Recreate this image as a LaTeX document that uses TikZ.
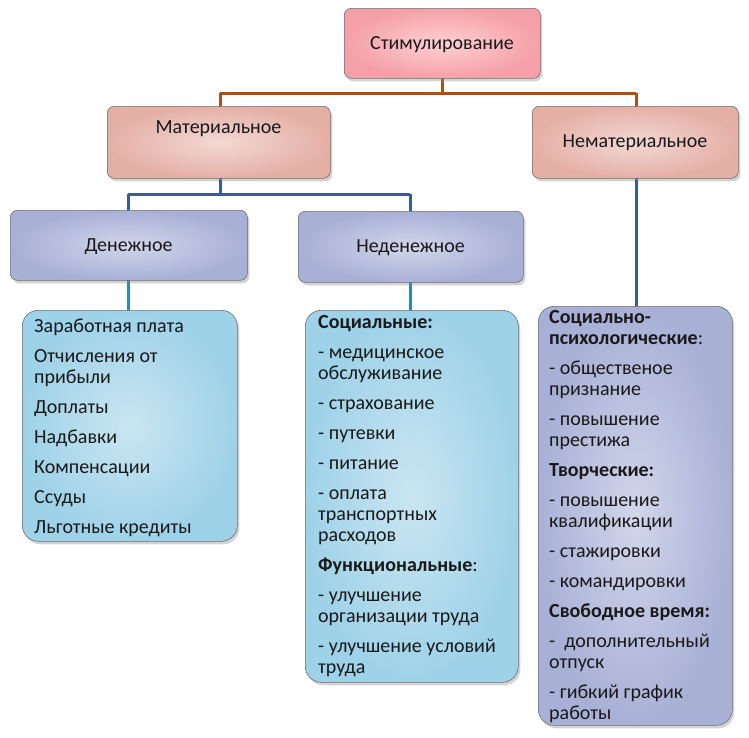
\documentclass[tikz,border=0pt]{standalone}
\usepackage{fontspec}
\setmainfont{Carlito}
\usetikzlibrary{shadows}
\definecolor{pinkout}{RGB}{245,160,168}
\definecolor{pinkin}{RGB}{255,208,211}
\definecolor{salout}{RGB}{228,176,166}
\definecolor{salin}{RGB}{243,216,212}
\definecolor{lavout}{RGB}{168,176,214}
\definecolor{lavin}{RGB}{210,214,234}
\definecolor{skyout}{RGB}{158,210,232}
\definecolor{skyin}{RGB}{202,230,242}
\definecolor{bordergrey}{RGB}{110,110,110}
\definecolor{brownline}{RGB}{166,82,30}
\definecolor{blueline}{RGB}{60,88,160}
\definecolor{tealline}{RGB}{40,140,170}
\definecolor{txt}{RGB}{25,25,25}
\tikzset{
  boxbase/.style={draw=bordergrey, line width=0.6pt, anchor=north west,
    drop shadow={opacity=0.35, shadow xshift=2pt, shadow yshift=-3pt}},
  headbox/.style={boxbase, rounded corners=7pt},
  listbox/.style={boxbase, rounded corners=16pt},
  lbl/.style={text=txt, font=\fontsize{20}{21}\selectfont},
  listtext/.style={lbl, anchor=north west, align=left, inner sep=0pt},
  brownc/.style={draw=brownline, line width=3pt},
  bluec/.style={draw=blueline, line width=3pt},
  tealc/.style={draw=tealline, line width=3pt},
}
\newcommand{\pgap}{\\[9pt]}
\begin{document}
\begin{tikzpicture}[x=1pt,y=-1pt]
\useasboundingbox (0,0) rectangle (749,737);
% connectors first
\coordinate (ja) at (442,93);
\coordinate (jb) at (220,194);
\draw[brownc] (442,78) -- (ja);
\draw[brownc] (220,93) -- (636,93);
\draw[brownc] (220,93) -- (220,108);
\draw[brownc] (636,93) -- (636,108);
\draw[bluec] (220,178) -- (jb);
\draw[bluec] (128,194) -- (410,194);
\draw[bluec] (128,194) -- (128,211);
\draw[bluec] (410,194) -- (410,212);
\draw[bluec] (636,178) -- (636,308);
\draw[tealc] (128,280) -- (128,311);
\draw[tealc] (410,282) -- (410,311);
% head boxes
\node[headbox, inner color=pinkin, outer color=pinkout, minimum width=196pt, minimum height=70pt] (top) at (344,8) {};
\node[lbl] (toptext) at (442,44.5) {Стимулирование};
\node[headbox, inner color=salin, outer color=salout, minimum width=223pt, minimum height=72pt] (mat) at (107,106) {};
\node[lbl] (mattext) at (218.5,128.5) {Материальное};
\node[headbox, inner color=salin, outer color=salout, minimum width=206pt, minimum height=72pt] (nemat) at (532,106) {};
\node[lbl] (nemattext) at (635,142.5) {Нематериальное};
\node[headbox, inner color=lavin, outer color=lavout, minimum width=237pt, minimum height=70pt] (den) at (10,210) {};
\node[lbl] (dentext) at (128.5,246.5) {Денежное};
\node[headbox, inner color=lavin, outer color=lavout, minimum width=225pt, minimum height=71pt] (neden) at (298,211) {};
\node[lbl] (nedentext) at (410.5,247.5) {Неденежное};
% list boxes
\node[listbox, inner color=skyin, outer color=skyout, minimum width=215pt, minimum height=231pt] (list1) at (22,310) {};
\node[listtext] (list1text) at (34,318.5) {Заработная плата\pgap
Отчисления от\\ прибыли\pgap
Доплаты\pgap
Надбавки\pgap
Компенсации\pgap
Ссуды\pgap
Льготные кредиты};
\node[listbox, inner color=skyin, outer color=skyout, minimum width=213pt, minimum height=372pt] (list2) at (305,310) {};
\node[listtext] (list2text) at (318,315.5) {\textbf{Социальные:}\pgap
- медицинское\\ обслуживание\pgap
- страхование\pgap
- путевки\pgap
- питание\pgap
- оплата\\ транспортных\\ расходов\pgap
\textbf{Функциональные}:\pgap
- улучшение\\ организации труда\pgap
- улучшение условий\\ труда};
\node[listbox, inner color=lavin, outer color=lavout, minimum width=194pt, minimum height=419pt] (list3) at (538,306) {};
\node[listtext] (list3text) at (549,310) {\textbf{Социально-}\\ \textbf{психологические}:\pgap
- общественое\\ признание\pgap
- повышение\\ престижа\pgap
\textbf{Творческие:}\pgap
- повышение\\ квалификации\pgap
- стажировки\pgap
- командировки\pgap
\textbf{Свободное время:}\pgap
-~~дополнительный\\ отпуск\pgap
- гибкий график\\ работы};
\end{tikzpicture}
\end{document}
